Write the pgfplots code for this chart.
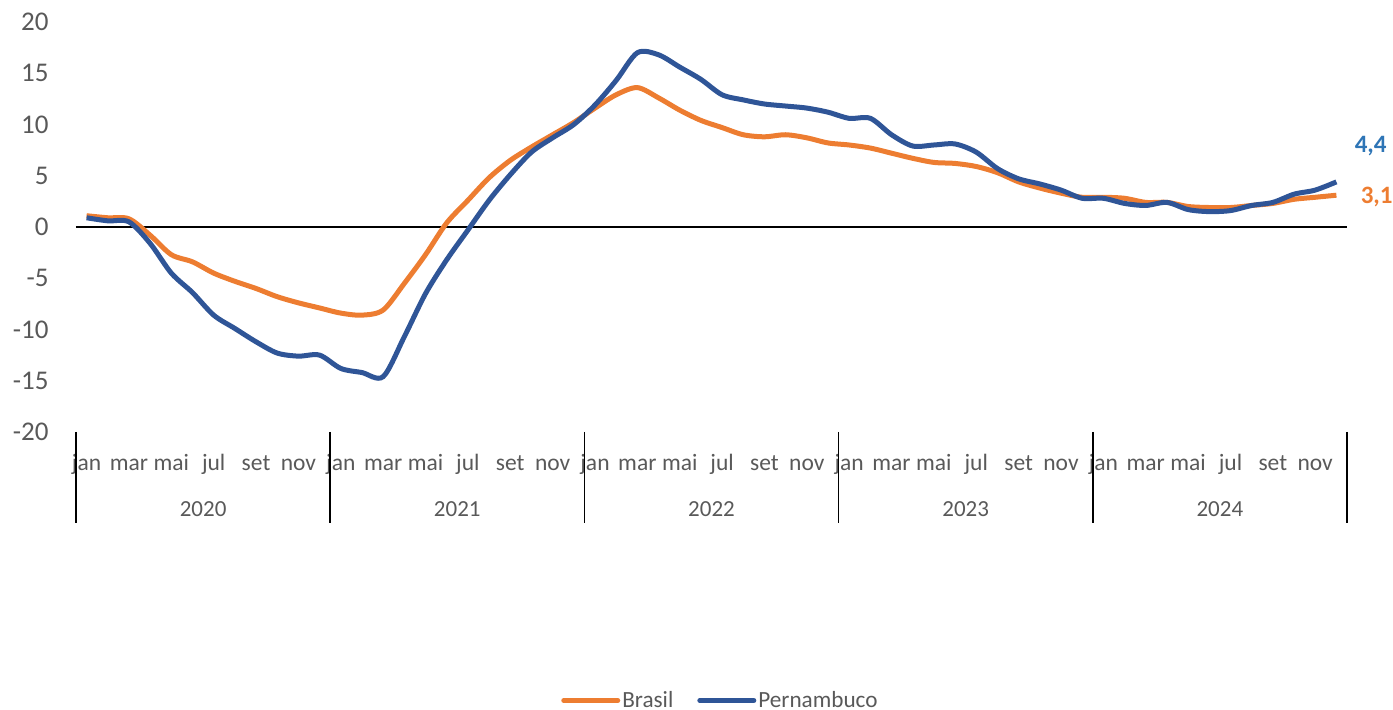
\documentclass[border=0pt]{standalone}
\usepackage{pgfplots}
\pgfplotsset{compat=1.18}
\usepackage{fontspec}
\setmainfont{Carlito}
\definecolor{cOrange}{HTML}{ED7D31}
\definecolor{cBlue}{HTML}{2F5597}
\definecolor{cLblBlue}{HTML}{2E75B6}
\definecolor{cGray}{HTML}{595959}
\pgfplotstableread{
x y
0 1.1
1 0.9
2 0.8
3 -0.8
4 -2.7
5 -3.4
6 -4.5
7 -5.3
8 -6.0
9 -6.8
10 -7.4
11 -7.9
12 -8.4
13 -8.6
14 -8.1
15 -5.5
16 -2.7
17 0.4
18 2.6
19 4.8
20 6.5
21 7.8
22 9.0
23 10.2
24 11.6
25 12.9
26 13.6
27 12.6
28 11.4
29 10.4
30 9.7
31 9.0
32 8.8
33 9.0
34 8.7
35 8.2
36 8.0
37 7.7
38 7.2
39 6.7
40 6.3
41 6.2
42 5.9
43 5.3
44 4.4
45 3.8
46 3.3
47 2.9
48 2.9
49 2.8
50 2.4
51 2.4
52 2.0
53 1.9
54 1.9
55 2.1
56 2.3
57 2.7
58 2.9
59 3.1
}\brasil
\pgfplotstableread{
x y
0 0.9
1 0.6
2 0.5
3 -1.6
4 -4.5
5 -6.4
6 -8.6
7 -9.9
8 -11.2
9 -12.3
10 -12.6
11 -12.5
12 -13.8
13 -14.2
14 -14.6
15 -10.7
16 -6.5
17 -3.2
18 -0.3
19 2.6
20 5.1
21 7.3
22 8.7
23 10.0
24 11.9
25 14.3
26 17.0
27 16.8
28 15.6
29 14.4
30 12.9
31 12.4
32 12.0
33 11.8
34 11.6
35 11.2
36 10.6
37 10.6
38 9.0
39 7.9
40 8.0
41 8.1
42 7.3
43 5.7
44 4.7
45 4.2
46 3.6
47 2.8
48 2.8
49 2.3
50 2.1
51 2.4
52 1.7
53 1.5
54 1.6
55 2.1
56 2.4
57 3.2
58 3.6
59 4.4
}\pernambuco
\begin{document}
\begin{tikzpicture}
\useasboundingbox (-38pt,-139pt) rectangle (658.5pt,216pt);
\begin{axis}[
  at={(0,0)}, anchor=south west,
  scale only axis, width=635.5pt, height=205pt,
  xmin=-0.5, xmax=59.5, ymin=-20, ymax=20,
  clip=false,
  axis line style={draw=none},
  tick style={draw=none},
  xtick pos=left, ytick pos=left,
  xtick={0,2,...,58},
  xticklabels={jan,mar,mai,jul,set,nov,jan,mar,mai,jul,set,nov,jan,mar,mai,jul,set,nov,jan,mar,mai,jul,set,nov,jan,mar,mai,jul,set,nov},
  xticklabel style={font=\fontsize{11.75}{12}\selectfont, text=cGray, anchor=base, yshift=-19.3pt, inner sep=0pt},
  ytick={-20,-15,...,20},
  yticklabels={-20,-15,-10,-5,0,5,10,15,20},
  yticklabel style={font=\fontsize{13.5}{14}\selectfont, text=cGray, anchor=east, inner sep=0pt, xshift=-13.5pt},
  legend style={at={(0.507,-0.655)}, anchor=center, draw=none, fill=none,
    font=\fontsize{11.6}{12}\selectfont, text=cGray, legend columns=2,
    /tikz/every even column/.append style={column sep=11pt},
    nodes={inner sep=1pt}},
  legend image code/.code={\draw[#1, line width=2.5pt, line cap=round] (0pt,0pt) -- (27pt,0pt);},
]
\draw[black, line width=0.75pt] (axis cs:-0.5,0) -- (axis cs:59.5,0);
\addplot[cOrange, line width=2.5pt, smooth, tension=0.5, no markers] table[x=x,y=y] {\brasil};
\addlegendentry{Brasil}
\addplot[cBlue, line width=2.5pt, smooth, tension=0.5, no markers] table[x=x,y=y] {\pernambuco};
\addlegendentry{Pernambuco}
\foreach \s in {-0.5,11.5,23.5,35.5,47.5,59.5} {
  \edef\tmp{\noexpand\draw[black, line width=0.75pt] (axis cs:\s,-20) -- ([yshift=-45.5pt]axis cs:\s,-20);}
  \tmp
}
\foreach \c/\yr in {5.5/2020,17.5/2021,29.5/2022,41.5/2023,53.5/2024} {
  \edef\tmp{\noexpand\node[font=\noexpand\fontsize{11.5}{12}\noexpand\selectfont, text=cGray] at (axis cs:\c,-20) [yshift=-38.5pt] {\yr};}
  \tmp
}
\node[anchor=west, inner sep=0pt, font=\bfseries\fontsize{12.5}{13}\selectfont, text=cLblBlue] at (axis cs:59,4.4) [xshift=9pt, yshift=18pt] {4,4};
\node[anchor=west, inner sep=0pt, font=\bfseries\fontsize{12.5}{13}\selectfont, text=cOrange] at (axis cs:59,3.1) [xshift=12pt, yshift=-1pt] {3,1};
\end{axis}
\end{tikzpicture}
\end{document}
